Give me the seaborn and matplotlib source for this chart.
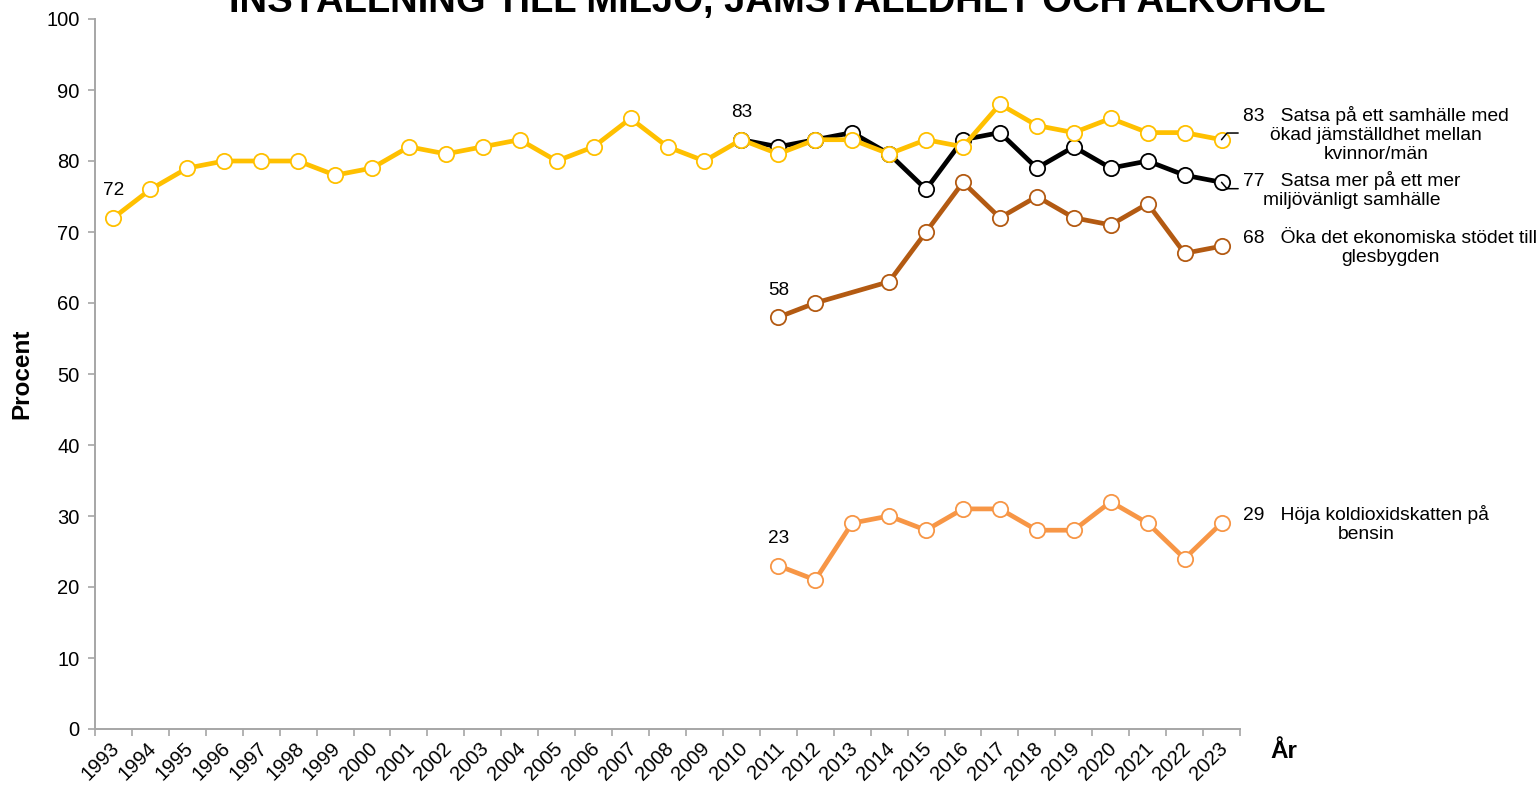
import numpy as np
import pandas as pd
import matplotlib
matplotlib.use("Agg")
import matplotlib.pyplot as plt
import matplotlib.transforms as mtransforms
import seaborn as sns

# Survey results, percent agreeing
years_all = list(range(1993, 2024))
jamstalldhet = [72, 76, 79, 80, 80, 80, 78, 79, 82, 81, 82, 83, 80, 82, 86, 82,
                80, 83, 81, 83, 83, 81, 83, 82, 88, 85, 84, 86, 84, 84, 83]

years_miljo = list(range(2010, 2024))
miljo = [83, 82, 83, 84, 81, 76, 83, 84, 79, 82, 79, 80, 78, 77]

years_glesbygd = [2011, 2012, 2014, 2015, 2016, 2017, 2018, 2019, 2020, 2021, 2022, 2023]
glesbygd = [58, 60, 63, 70, 77, 72, 75, 72, 71, 74, 67, 68]

years_koldioxid = list(range(2011, 2024))
koldioxid = [23, 21, 29, 30, 28, 31, 31, 28, 28, 32, 29, 24, 29]

labels = {
    "jamstalldhet": ["Satsa på ett samhälle med", "ökad jämställdhet mellan", "kvinnor/män"],
    "miljo": ["Satsa mer på ett mer", "miljövänligt samhälle"],
    "glesbygd": ["Öka det ekonomiska stödet till", "glesbygden"],
    "koldioxid": ["Höja koldioxidskatten på", "bensin"],
}
colors = {
    "jamstalldhet": "#FFC000",
    "miljo": "#000000",
    "glesbygd": "#B35A12",
    "koldioxid": "#F79646",
}
title = "INSTÄLLNING TILL MILJÖ, JÄMSTÄLLDHET OCH ALKOHOL"

# drawing order: last one ends up on top
series = {
    "koldioxid": (years_koldioxid, koldioxid),
    "glesbygd": (years_glesbygd, glesbygd),
    "miljo": (years_miljo, miljo),
    "jamstalldhet": (years_all, jamstalldhet),
}
# vertical centre of each end label block (data units)
label_y = {"jamstalldhet": 83.7, "miljo": 75.9, "glesbygd": 67.7, "koldioxid": 28.9}

sns.set_theme(style="white")
plt.rcParams["font.family"] = ["Liberation Sans", "DejaVu Sans"]
plt.rcParams["text.color"] = "#000000"

fig = plt.figure(figsize=(15.4, 7.86), dpi=100)
ax = fig.add_axes([95 / 1540, 1 - 729 / 786, (1240 - 95) / 1540, (729 - 19) / 786])

for key, (xs, ys) in series.items():
    df = pd.DataFrame({"År": xs, "Procent": ys})
    c = colors[key]
    sns.lineplot(data=df, x="År", y="Procent", ax=ax, color=c, linewidth=3.4,
                 marker="o", markersize=11, markerfacecolor="white",
                 markeredgecolor=c, markeredgewidth=1.3, estimator=None)

ax.set_xlim(1992.5, 2023.5)
ax.set_ylim(0, 100)

# start-value labels above the first point of each series
for key, (xs, ys) in series.items():
    ax.annotate(f"{ys[0]}", (xs[0], ys[0]), xytext=(0, 19.5), textcoords="offset points",
                ha="center", va="center", fontsize=13.7, color="black")

# leader lines to the end labels
ax.plot([2023, 2023.15, 2023.45], [jamstalldhet[-1], 83.94, 83.94], color="black",
        lw=1.1, clip_on=False, zorder=5)
ax.plot([2023, 2023.15, 2023.45], [miljo[-1], 76.1, 76.1], color="black",
        lw=1.1, clip_on=False, zorder=5)

# end labels
for key, (xs, ys) in series.items():
    lines = labels[key]
    txt = f"{ys[-1]}   {lines[0]}"
    if len(lines) > 1:
        txt += "\n" + "\n".join(lines[1:])
    ax.text(2023.58, label_y[key], txt, ha="left", va="center", multialignment="center",
            fontsize=13.9, clip_on=False, linespacing=1.15, color="black")

# axes styling
for s in ["top", "right"]:
    ax.spines[s].set_visible(False)
for s in ["left", "bottom"]:
    ax.spines[s].set_color("#A6A6A6")
    ax.spines[s].set_linewidth(1.4)

ax.set_yticks(np.arange(0, 101, 10))
ax.tick_params(axis="y", which="major", direction="out", length=5, width=1.2,
               color="#A6A6A6", labelcolor="black", labelsize=14.5, pad=6, left=True)

ax.set_xticks(np.arange(1992.5, 2024, 1))
ax.set_xticklabels([])
ax.set_xticks(years_all, minor=True)
ax.set_xticklabels([str(y) for y in years_all], minor=True, rotation=45,
                   ha="right", rotation_mode="anchor", fontsize=14.5)
ax.tick_params(axis="x", which="major", direction="out", length=5, width=1.2,
               color="#A6A6A6", bottom=True)
ax.tick_params(axis="x", which="minor", length=0, pad=7, bottom=True, labelcolor="black")
shift = mtransforms.ScaledTranslation(-4 / 100, 0, fig.dpi_scale_trans)
for lbl in ax.get_xticklabels(minor=True):
    lbl.set_transform(lbl.get_transform() + shift)

ax.set_xlabel("")
ax.set_ylabel("")
fig.text(22 / 1540, 1 - 374 / 786, "Procent", rotation=90, ha="center", va="center",
         fontsize=17.5, fontweight="bold")
fig.text(1284 / 1540, 1 - 752 / 786, "År", ha="center", va="center",
         fontsize=17.5, fontweight="bold")
fig.text(777 / 1540, 1 - 12 / 786, title, ha="center", va="baseline",
         fontsize=27.5, fontweight="bold")

fig.savefig("out.png", dpi=100)
